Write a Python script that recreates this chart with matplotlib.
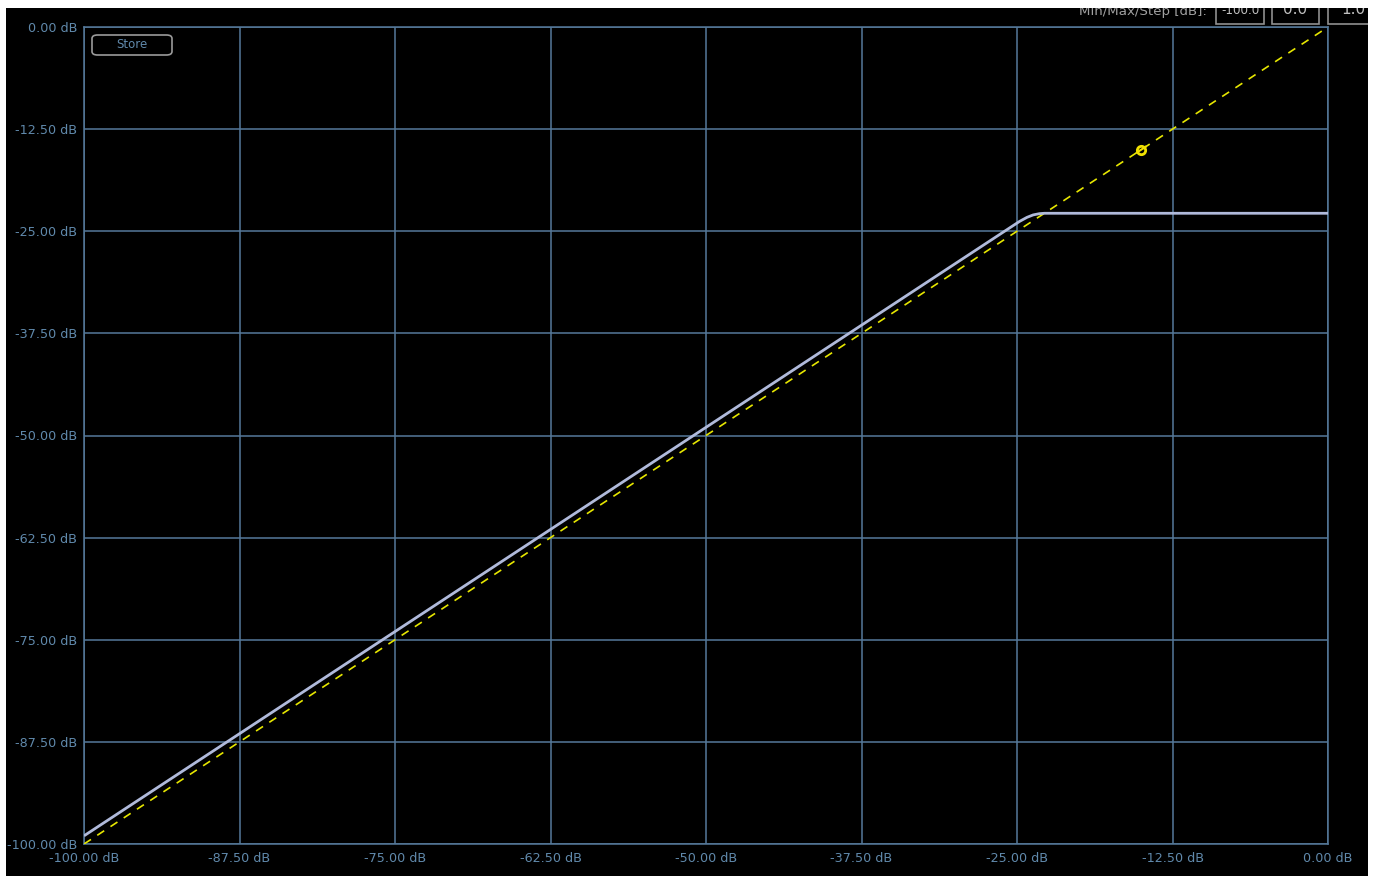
import matplotlib
matplotlib.use('Agg')
import numpy as np
from matplotlib import pyplot as plt
from matplotlib.patches import Rectangle, FancyBboxPatch

# compressor transfer curve, input dB -> output dB
curve_in = [-100.0, -24.8, -24.2, -23.7, -23.2, -22.8, 0.0]
curve_out = [-99.0, -23.8, -23.3, -23.0, -22.85, -22.8, -22.8]

# unity reference line
ref_in = [-100.0, 0.0]
ref_out = [-100.0, 0.0]

# handle point
handle_in = [-15.0]
handle_out = [-15.0]

ticks = [-100.0, -87.5, -75.0, -62.5, -50.0, -37.5, -25.0, -12.5, 0.0]
tick_labels = ['%.2f dB' % t for t in ticks]

range_labels = ['-100.0', '0.0', '1.0']

W, H = 1381, 876
fig = plt.figure(figsize=(W / 100, H / 100), dpi=100)
fig.patch.set_facecolor('white')

def px(x, y, w, h):
    # pixel box (top-left origin) -> figure fraction
    return [x / W, 1 - (y + h) / H, w / W, h / H]

# black panel
fig.patches.append(Rectangle((6 / W, 0), (1368 - 6) / W, (H - 8) / H,
                             transform=fig.transFigure, facecolor='black',
                             edgecolor='none', zorder=-10))

grid_col = '#55799a'
lab_col = '#6089ab'

ax = fig.add_axes(px(84, 27, 1328 - 84, 844 - 27))
ax.set_facecolor('black')
ax.set_xlim(-100, 0)
ax.set_ylim(-100, 0)
ax.set_xticks(ticks)
ax.set_yticks(ticks)
ax.set_xticklabels(tick_labels)
ax.set_yticklabels(tick_labels)
ax.tick_params(length=0, colors=lab_col, labelsize=9.2)
ax.tick_params(axis='y', pad=5)
ax.tick_params(axis='x', pad=6)
ax.grid(True, color=grid_col, lw=1.1)
for s in ax.spines.values():
    s.set_color(grid_col)
    s.set_linewidth(1.1)

ax.plot(ref_in, ref_out, color='#e6e600', lw=1.2, dashes=(5, 4.5), zorder=3)
ax.plot(curve_in, curve_out, color='#b0badb', lw=2.0, zorder=4,
        solid_capstyle='butt')
ax.plot(handle_in, handle_out, 'o', ms=6, mfc='none', mec='#f0e000', mew=2.0,
        zorder=5)
ax.plot([handle_in[0] - 0.35, handle_in[0] + 0.35],
        [handle_out[0] - 0.35, handle_out[0] + 0.35], color='#f0e000',
        lw=1.5, zorder=6)

# Store button
fig.patches.append(FancyBboxPatch((92 / W, 1 - 55 / H), 80 / W, 20 / H,
                                  boxstyle='round,pad=0,rounding_size=0.004',
                                  transform=fig.transFigure, facecolor='black',
                                  edgecolor='#9a9a9a', lw=1.2, zorder=5))
fig.text(132 / W, 1 - 45 / H, 'Store', color=lab_col, fontsize=8.5,
         ha='center', va='center', zorder=6)

# range boxes at the top right
fig.text(1207 / W, 1 - 11 / H, 'Min/Max/Step [dB]:', color='#a0a0a0',
         fontsize=9.6, ha='right', va='center', zorder=6)
box_x = [(1216, 1264), (1272, 1319), (1328, 1378)]
for (x0, x1), lab in zip(box_x, range_labels):
    fig.patches.append(Rectangle((x0 / W, 1 - 24 / H), (x1 - x0) / W, 24 / H,
                                 transform=fig.transFigure, facecolor='black',
                                 edgecolor='#909090', lw=1.2, zorder=5))
    fig.text((x0 + x1) / 2 / W, 1 - 10 / H, lab, color='#c0c0c0',
             fontsize=11 if lab != '-100.0' else 8.6,
             ha='center', va='center', zorder=6)

# white frame on top/right
fig.patches.append(Rectangle((0, 1 - 8 / H), 1, 8 / H, transform=fig.transFigure,
                             facecolor='white', edgecolor='none', zorder=20))
fig.patches.append(Rectangle((1368 / W, 0), 13 / W, 1, transform=fig.transFigure,
                             facecolor='white', edgecolor='none', zorder=20))

fig.savefig('out.png', dpi=100, facecolor='white')
